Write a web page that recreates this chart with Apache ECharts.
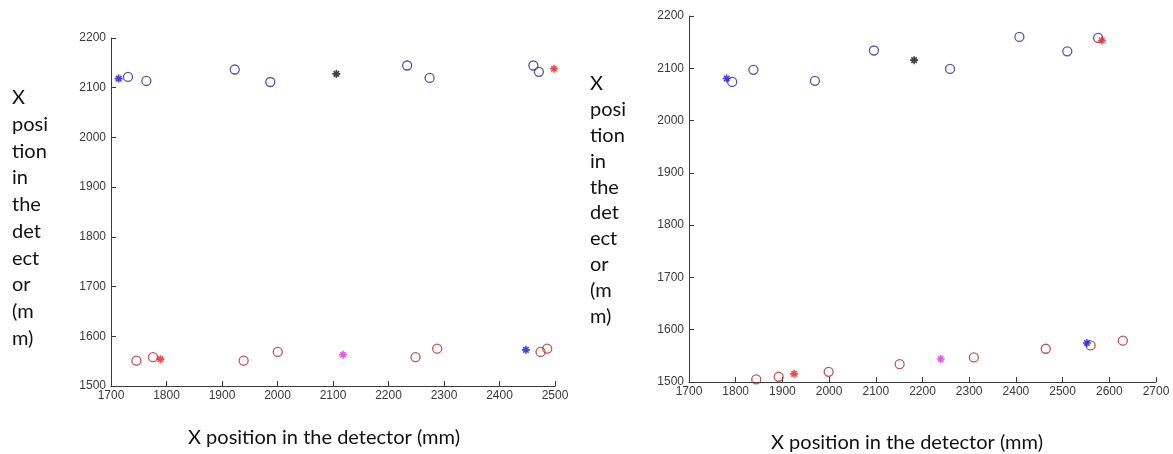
<!DOCTYPE html>
<html>
<head>
<meta charset="utf-8">
<script src="https://cdn.jsdelivr.net/npm/echarts@6/dist/echarts.min.js"></script>
<style>
  html, body { margin: 0; padding: 0; background: #fff; }
  #chart { width: 1173px; height: 454px; }
</style>
</head>
<body>
<div id="chart"></div>
<script>
// ---- Left panel: measured positions [x, y] in mm ----
const leftUpperCircles = [
  [1730.6, 2121.7], [1763.7, 2113.6], [1923, 2136.6], [1987, 2111.5],
  [2233.6, 2144.7], [2274, 2119.7], [2461, 2144.7], [2471, 2131.9]
];
const leftLowerCircles = [
  [1745.7, 1551], [1775.7, 1558], [1939, 1551], [2000.5, 1568.5],
  [2248.7, 1558], [2287.7, 1575], [2474, 1568.5], [2486, 1575]
];
const leftBlueStars = [[1713.8, 2118.3], [2447.6, 1572.7]];
const leftBlackStars = [[2106, 2127.8]];
const leftRedStars = [[2498, 2138], [1789, 1554]];
const leftMagentaStars = [[2118, 1563]];

// ---- Right panel ----
const rightUpperCircles = [
  [1792.5, 2074], [1838, 2097], [1969.6, 2076], [2096, 2134],
  [2259, 2098.7], [2407.5, 2160], [2510, 2132.5], [2576, 2158]
];
const rightLowerCircles = [
  [1844, 1505], [1892, 1510], [1999, 1519.5], [2151, 1534],
  [2310, 1547], [2464, 1563.6], [2560, 1570], [2629, 1579]
];
const rightBlueStars = [[1780.6, 2080.5], [2552, 1574.7]];
const rightBlackStars = [[2182, 2115.6]];
const rightRedStars = [[2584, 2153], [1925, 1515.6]];
const rightMagentaStars = [[2239, 1544]];

// ---- Axis ranges and titles ----
const leftXRange = [1700, 2500];
const rightXRange = [1700, 2700];
const yRange = [1500, 2200];
const tickStep = 100;
const xTitle = 'X position in the detector (mm)';
const yTitleLines = ['X', 'posi', 'tion', 'in', 'the', 'det', 'ect', 'or', '(m', 'm)'];

const chart = echarts.init(document.getElementById('chart'), null, { renderer: 'canvas' });

const axisColor = '#3a3a3a';
const labelStyle = {
  color: '#3a3a3a', fontSize: 12, fontFamily: 'Liberation Sans, Arial, sans-serif',
  formatter: v => String(v)
};
const starPath = 'path://M5 0L5 10M0 5L10 5M1.6 1.6L8.4 8.4M8.4 1.6L1.6 8.4';

function xAxisFor(gridIndex, range) {
  return {
    type: 'value', gridIndex, min: range[0], max: range[1], interval: tickStep,
    axisLine: { show: true, onZero: false, lineStyle: { color: axisColor, width: 1 } },
    axisTick: { show: true, inside: true, length: 5, lineStyle: { color: axisColor } },
    axisLabel: Object.assign({ margin: 4, showMaxLabel: true, showMinLabel: true }, labelStyle),
    splitLine: { show: false }
  };
}
function yAxisFor(gridIndex) {
  return {
    type: 'value', gridIndex, min: yRange[0], max: yRange[1], interval: tickStep,
    axisLine: { show: true, onZero: false, lineStyle: { color: axisColor, width: 1 } },
    axisTick: { show: true, inside: true, length: 5, lineStyle: { color: axisColor } },
    axisLabel: Object.assign({ margin: 5 }, labelStyle),
    splitLine: { show: false }
  };
}
function circles(idx, data, color) {
  return {
    type: 'scatter', xAxisIndex: idx, yAxisIndex: idx, data,
    symbol: 'circle', symbolSize: 9,
    itemStyle: { color: 'rgba(0,0,0,0)', borderColor: color, borderWidth: 1.3 },
    emphasis: { disabled: true }, z: 2
  };
}
function stars(idx, data, color) {
  return {
    type: 'scatter', xAxisIndex: idx, yAxisIndex: idx, data,
    symbol: starPath, symbolSize: 8,
    itemStyle: { color: 'rgba(0,0,0,0)', borderColor: color, borderWidth: 1.6 },
    emphasis: { disabled: true }, z: 3
  };
}

function titleText(x, y, text, lineHeight, align) {
  return {
    type: 'text', x, y, silent: true,
    style: {
      text, fill: '#111', fontSize: 20, fontFamily: 'Lato, "Open Sans", sans-serif',
      lineHeight, align: align, verticalAlign: 'middle'
    }
  };
}

chart.setOption({
  backgroundColor: '#ffffff',
  animation: false,
  grid: [
    { left: 111, top: 38, width: 444, height: 348 },
    { left: 689, top: 16, width: 467, height: 366 }
  ],
  xAxis: [xAxisFor(0, leftXRange), xAxisFor(1, rightXRange)],
  yAxis: [yAxisFor(0), yAxisFor(1)],
  series: [
    circles(0, leftUpperCircles, '#2a2a96'),
    circles(0, leftLowerCircles, '#b02a2a'),
    stars(0, leftBlueStars, '#1414d8'),
    stars(0, leftBlackStars, '#111111'),
    stars(0, leftRedStars, '#e82020'),
    stars(0, leftMagentaStars, '#e030e0'),
    circles(1, rightUpperCircles, '#2a2a96'),
    circles(1, rightLowerCircles, '#b02a2a'),
    stars(1, rightBlueStars, '#1414d8'),
    stars(1, rightBlackStars, '#111111'),
    stars(1, rightRedStars, '#e82020'),
    stars(1, rightMagentaStars, '#e030e0')
  ],
  graphic: [
    titleText(324, 438, xTitle, 24, 'center'),
    titleText(907, 443, xTitle, 24, 'center'),
    titleText(12, 218, yTitleLines.join('\n'), 26.7, 'left'),
    titleText(590, 200, yTitleLines.join('\n'), 25.9, 'left')
  ]
});
</script>
</body>
</html>
